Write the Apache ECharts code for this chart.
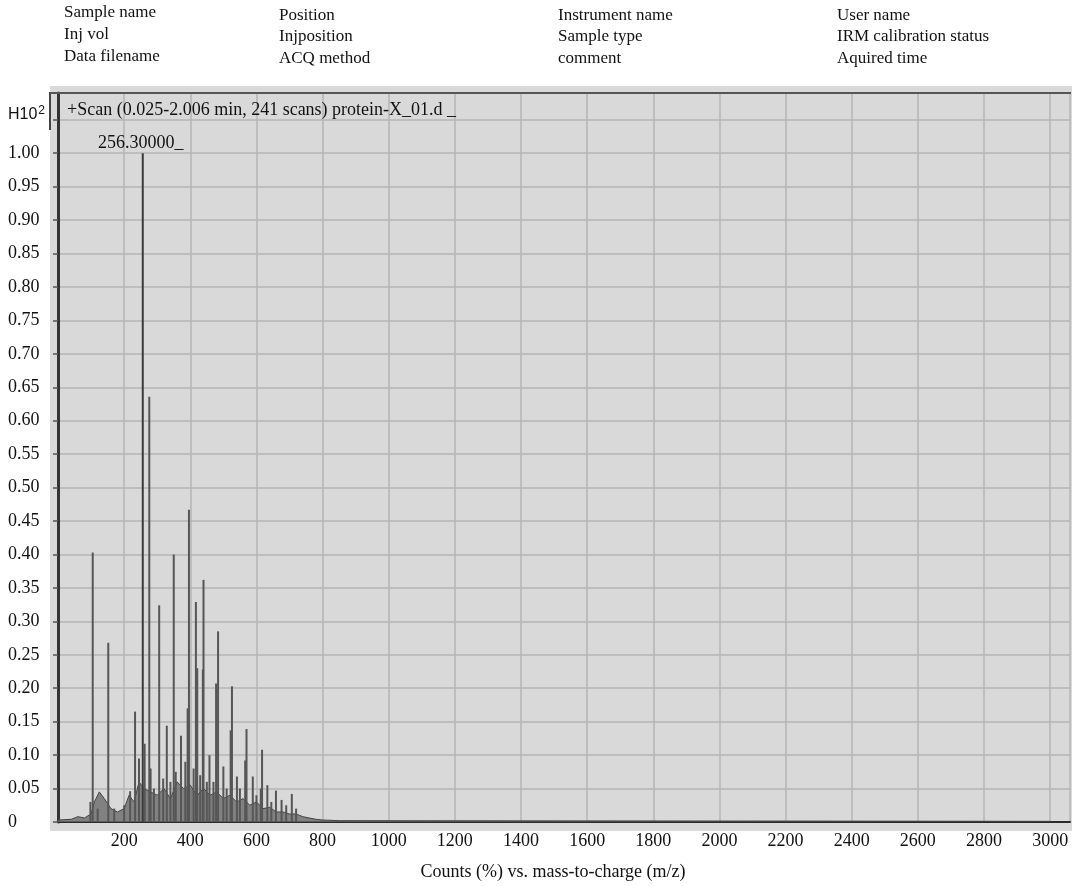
<!DOCTYPE html>
<html><head><meta charset="utf-8">
<script src="https://cdn.jsdelivr.net/npm/echarts/dist/echarts.min.js"></script>
<style>html,body{margin:0;padding:0;background:#fff}#c{width:1073px;height:886px}</style>
</head><body><div id="c"></div>
<script>
// ---- header text ----
const headerCol1 = ['Sample name', 'Inj vol', 'Data filename'];
const headerCol2 = ['Position', 'Injposition', 'ACQ method'];
const headerCol3 = ['Instrument name', 'Sample type', 'comment'];
const headerCol4 = ['User name', 'IRM calibration status', 'Aquired time'];
const scanTitle = '+Scan (0.025-2.006 min, 241 scans) protein-X_01.d _';
const xAxisTitle = 'Counts (%) vs. mass-to-charge (m/z)';
const yUnitLabel = 'H10';
const yUnitExp = '2';
const basePeakMz = 256.3;
const basePeakLabel = '256.30000_';

// ---- axis ----
const xMin = 0, xMax = 3060, xStep = 200;
const yMin = 0, yMax = 1.09, yStep = 0.05;

// ---- peaks (m/z, relative counts) ----
const peakMz = [98, 105, 120, 152, 170, 200, 218, 233, 245, 256.3, 262, 276, 280, 290, 306, 318, 329, 340, 350, 356, 372, 385, 392, 396, 410, 417, 421, 430, 438, 440, 450, 458, 470, 478, 484, 500, 510, 522, 526, 541, 550, 566, 570, 589, 600, 613, 617, 633, 645, 659, 676, 690, 707, 720];
const peakInt = [0.030, 0.403, 0.020, 0.268, 0.020, 0.025, 0.046, 0.165, 0.095, 1.000, 0.117, 0.636, 0.080, 0.050, 0.324, 0.065, 0.144, 0.060, 0.400, 0.075, 0.129, 0.090, 0.170, 0.467, 0.080, 0.329, 0.230, 0.070, 0.228, 0.362, 0.060, 0.100, 0.060, 0.207, 0.285, 0.083, 0.050, 0.137, 0.203, 0.068, 0.050, 0.092, 0.139, 0.068, 0.040, 0.050, 0.108, 0.055, 0.030, 0.047, 0.033, 0.025, 0.042, 0.020];

// ---- noise floor ----
const noiseMz = [0, 40, 60, 80, 100, 110, 125, 140, 160, 180, 200, 215, 230, 245, 260, 280, 300, 320, 340, 360, 380, 400, 420, 440, 460, 480, 500, 520, 540, 560, 580, 600, 620, 640, 660, 680, 700, 720, 740, 760, 780, 800, 850, 3000];
const noiseInt = [0.003, 0.004, 0.008, 0.006, 0.012, 0.030, 0.045, 0.035, 0.020, 0.015, 0.020, 0.040, 0.030, 0.060, 0.050, 0.045, 0.040, 0.050, 0.035, 0.060, 0.050, 0.055, 0.040, 0.050, 0.040, 0.045, 0.035, 0.040, 0.030, 0.035, 0.025, 0.030, 0.020, 0.022, 0.015, 0.015, 0.012, 0.012, 0.008, 0.006, 0.004, 0.003, 0.002, 0.001];

const serif = '"Liberation Serif", "DejaVu Serif", serif';
const sans = '"Liberation Sans", Arial, sans-serif';
const chart = echarts.init(document.getElementById('c'));

const headerGraphics = [];
[[headerCol1, 64, [13, 35, 57]], [headerCol2, 279, [16, 37, 59]], [headerCol3, 558, [16, 37, 59]], [headerCol4, 837, [16, 37, 59]]]
  .forEach(([col, x, ys]) => col.forEach((t, i) => headerGraphics.push({
    type: 'text', z: 100,
    style: { text: t, x: x, y: ys[i], font: '17px ' + serif, fill: '#111', textVerticalAlign: 'middle' }
  })));

const nSplit = Math.round((yMax - yMin) / yStep);
const splitColors = [];
for (let i = 0; i <= nSplit; i++) splitColors.push(i === nSplit ? 'rgba(0,0,0,0)' : '#b4b4b4');

const peakData = peakMz.map((m, i) => {
  const d = { value: [m, peakInt[i]] };
  if (m === basePeakMz) {
    d.itemStyle = { color: '#3a3a3a' };
    d.label = { show: true, position: 'top', distance: 1, formatter: basePeakLabel, fontFamily: serif, fontSize: 18, color: '#111', offset: [-2, 0] };
  }
  return d;
});

chart.setOption({
  animation: false,
  backgroundColor: '#fff',
  grid: { left: 58, right: 3, top: 93, bottom: 57, show: false },
  graphic: [
    { type: 'rect', z: -10, shape: { x: 50, y: 86, width: 1022, height: 745 }, style: { fill: '#d9d9d9' } },
    { type: 'line', z: 50, shape: { x1: 50, y1: 92, x2: 50, y2: 130 }, style: { stroke: '#444', lineWidth: 2 } },
    { type: 'line', z: 50, shape: { x1: 50, y1: 93, x2: 1071, y2: 93 }, style: { stroke: '#555', lineWidth: 2 } },
    { type: 'text', z: 100, style: { text: scanTitle, x: 67, y: 110, font: '18px ' + serif, fill: '#111', textVerticalAlign: 'middle' } },
    { type: 'text', z: 100, style: {
        text: '{a|' + yUnitLabel + '}{b|' + yUnitExp + '}', x: 8, y: 115, textVerticalAlign: 'middle',
        rich: { a: { fontFamily: sans, fontSize: 16, fill: '#111' }, b: { fontFamily: sans, fontSize: 12, fill: '#111', verticalAlign: 'top', padding: [0, 0, 9, 1] } }
      } }
  ].concat(headerGraphics),
  xAxis: {
    type: 'value', min: xMin, max: xMax, interval: xStep,
    name: xAxisTitle, nameLocation: 'middle', nameGap: 41,
    nameTextStyle: { fontFamily: serif, fontSize: 18, color: '#111', padding: [0, 22, 0, 0] },
    axisLine: { show: true, onZero: false, lineStyle: { color: '#2a2a2a', width: 2 } },
    axisTick: { show: false },
    axisLabel: { showMinLabel: false, showMaxLabel: false, margin: 10, fontFamily: serif, fontSize: 18, color: '#111',
      formatter: v => String(v) },
    splitLine: { show: true, lineStyle: { color: '#b4b4b4', width: 1.5 } }
  },
  yAxis: {
    type: 'value', min: yMin, max: yMax, interval: yStep,
    axisLine: { show: true, onZero: false, lineStyle: { color: '#333', width: 3 } },
    axisTick: { show: true, length: 5, lineStyle: { color: '#555', width: 1.5 } },
    axisLabel: {
      align: 'left', margin: 50, fontFamily: serif, fontSize: 18, color: '#111', showMaxLabel: false,
      formatter: v => (v > 1.001 ? '' : (v === 0 ? '0' : v.toFixed(2)))
    },
    splitLine: { show: true, lineStyle: { color: splitColors, width: 1.5 } }
  },
  series: [
    {
      type: 'line', data: noiseMz.map((m, i) => [m, noiseInt[i]]), symbol: 'none', z: 3,
      lineStyle: { color: '#444', width: 1 }, areaStyle: { color: '#6a6a6a', opacity: 0.8 }
    },
    {
      type: 'bar', data: peakData, barWidth: 2, z: 4,
      itemStyle: { color: '#565656' }
    },
    {
      type: 'line', data: [[xMin, 1.09], [xMax, 1.09]], symbol: 'none', silent: true, z: 5,
      lineStyle: { color: '#555', width: 2 }
    }
  ]
});
</script>
</body></html>
